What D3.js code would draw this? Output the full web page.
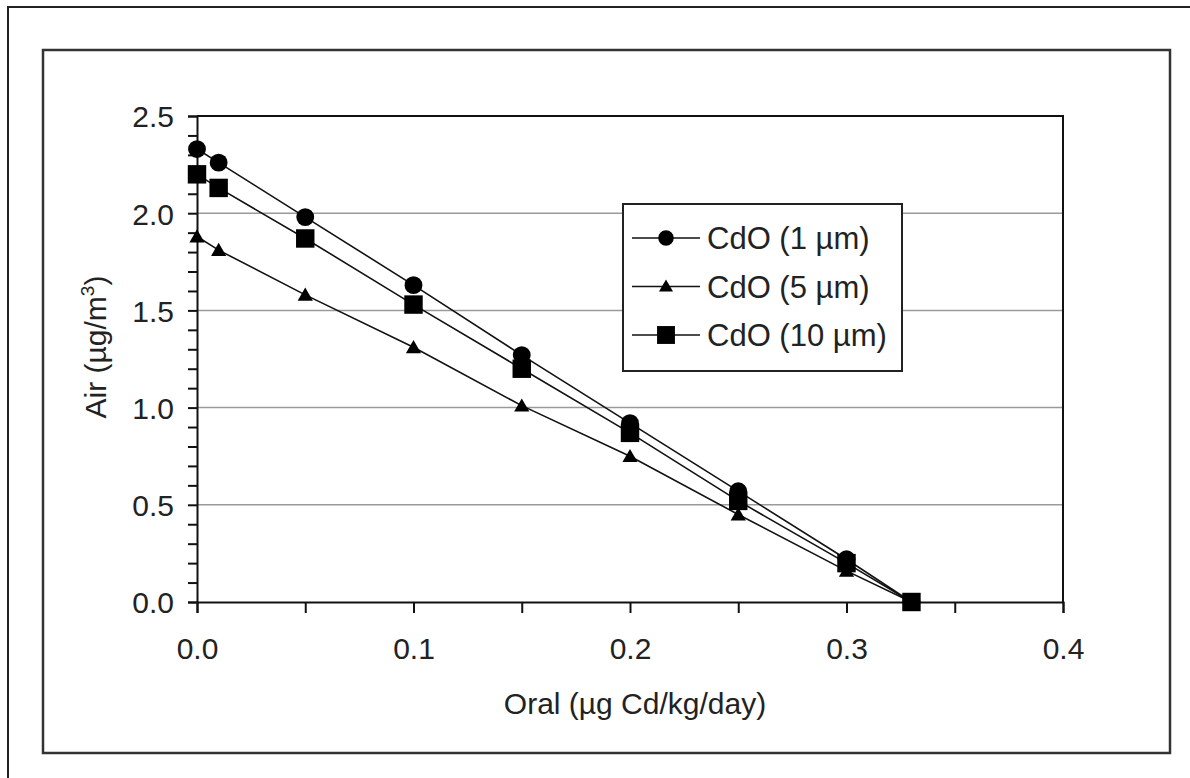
<!DOCTYPE html>
<html>
<head>
<meta charset="utf-8">
<script src="https://cdn.jsdelivr.net/npm/d3@7"></script>
<style>
  body { margin: 0; background: #fff; }
  text { font-family: Arial, "Liberation Sans", sans-serif; fill: #222; }
</style>
</head>
<body>
<div id="chart"></div>
<script>
// data
const oral = [0, 0.01, 0.05, 0.1, 0.15, 0.2, 0.25, 0.3, 0.33];
const cdo1 = [2.33, 2.26, 1.98, 1.63, 1.27, 0.92, 0.57, 0.22, 0];
const cdo5 = [1.88, 1.81, 1.58, 1.31, 1.01, 0.75, 0.45, 0.16, 0];
const cdo10 = [2.20, 2.13, 1.87, 1.53, 1.20, 0.87, 0.52, 0.20, 0];
const seriesNames = ["CdO (1 µm)", "CdO (5 µm)", "CdO (10 µm)"];
const seriesShapes = ["circle", "triangle", "square"];
const xTicks = [0, 0.1, 0.2, 0.3, 0.4];
const yTicks = [0, 0.5, 1.0, 1.5, 2.0, 2.5];

const W = 1190, H = 778;
const P = { left: 197, right: 1063, top: 116, bottom: 602 };
const FONT = "Arial, 'Liberation Sans', sans-serif";

const svg = d3.select("#chart").append("svg")
  .attr("width", W).attr("height", H)
  .attr("viewBox", `0 0 ${W} ${H}`);

// outer frame (cropped at right/bottom) and inner chart box
svg.append("path").attr("d", `M8,${H} L8,7 L${W},7`)
  .attr("fill", "none").attr("stroke", "#222").attr("stroke-width", 2);
svg.append("rect").attr("x", 43).attr("y", 50).attr("width", 1127).attr("height", 703)
  .attr("fill", "none").attr("stroke", "#333").attr("stroke-width", 2.5);

const x = d3.scaleLinear().domain([0, 0.4]).range([P.left, P.right]);
const y = d3.scaleLinear().domain([0, 2.5]).range([P.bottom, P.top]);

// gridlines
svg.append("g")
  .selectAll("line").data(yTicks.filter(d => d > 0 && d < 2.5)).join("line")
  .attr("x1", P.left).attr("x2", P.right)
  .attr("y1", d => y(d)).attr("y2", d => y(d))
  .attr("stroke", "#9a9a9a").attr("stroke-width", 1.5);

// plot border top / right
svg.append("path")
  .attr("d", `M${P.left},${P.top} L${P.right},${P.top} L${P.right},${P.bottom}`)
  .attr("fill", "none").attr("stroke", "#111").attr("stroke-width", 2);

// x axis: major + minor ticks
svg.append("g").attr("transform", `translate(0,${P.bottom})`)
  .call(d3.axisBottom(x).ticks(8).tickSize(11).tickFormat(""))
  .call(g => g.select(".domain").attr("stroke", "#111").attr("stroke-width", 2))
  .call(g => g.selectAll(".tick line").attr("stroke", "#111").attr("stroke-width", 2));
svg.append("g").attr("transform", `translate(0,${P.bottom})`)
  .call(d3.axisBottom(x).tickValues(xTicks).tickSize(0).tickFormat(d3.format(".1f")))
  .call(g => g.select(".domain").remove())
  .call(g => g.selectAll("text").attr("font-size", 30).attr("fill", "#222")
    .attr("font-family", FONT).attr("dy", "0").attr("y", 57));

// y axis: minor ticks every 0.1
svg.append("g").attr("transform", `translate(${P.left},0)`)
  .call(d3.axisLeft(y).ticks(25).tickSize(9).tickFormat(""))
  .call(g => g.select(".domain").attr("stroke", "#111").attr("stroke-width", 2))
  .call(g => g.selectAll(".tick line").attr("stroke", "#111").attr("stroke-width", 2));
svg.append("g").attr("transform", `translate(${P.left},0)`)
  .call(d3.axisLeft(y).tickValues(yTicks).tickSize(0).tickFormat(d3.format(".1f")))
  .call(g => g.select(".domain").remove())
  .call(g => g.selectAll("text").attr("font-size", 30).attr("fill", "#222")
    .attr("font-family", FONT).attr("x", -23).attr("dy", "0.36em"));

// axis titles
svg.append("text").attr("x", 635).attr("y", 714)
  .attr("text-anchor", "middle").attr("font-size", 30).text("Oral (µg Cd/kg/day)");
const yt = svg.append("text")
  .attr("transform", `translate(106,347) rotate(-90)`)
  .attr("text-anchor", "middle").attr("font-size", 30);
yt.append("tspan").text("Air (µg/m");
yt.append("tspan").attr("font-size", 19).attr("dy", -12).text("3");
yt.append("tspan").attr("dy", 12).text(")");

// markers
const sym = {
  circle: d3.symbol().type(d3.symbolCircle).size(250),
  triangle: d3.symbol().type(d3.symbolTriangle).size(100),
  square: d3.symbol().type(d3.symbolSquare).size(340)
};
const legSym = {
  circle: d3.symbol().type(d3.symbolCircle).size(190),
  triangle: d3.symbol().type(d3.symbolTriangle).size(85),
  square: d3.symbol().type(d3.symbolSquare).size(320)
};

const series = [cdo1, cdo5, cdo10].map((vals, i) => ({
  name: seriesNames[i], shape: seriesShapes[i],
  pts: oral.map((o, j) => ({ x: o, y: vals[j] }))
}));

const line = d3.line().x(d => x(d.x)).y(d => y(d.y));

// lines first, then markers (series order as in the original)
series.forEach(s => {
  svg.append("path").datum(s.pts)
    .attr("fill", "none").attr("stroke", "#111").attr("stroke-width", 1.6)
    .attr("d", line);
});
series.forEach(s => {
  svg.append("g").selectAll("path").data(s.pts).join("path")
    .attr("transform", d => `translate(${x(d.x)},${y(d.y) + (s.shape === "triangle" ? 1.5 : 0)})`)
    .attr("d", sym[s.shape]).attr("fill", "#000");
});

// legend
const lg = svg.append("g").attr("transform", "translate(623,204)");
lg.append("rect").attr("width", 279).attr("height", 167)
  .attr("fill", "#fff").attr("stroke", "#222").attr("stroke-width", 2);
series.forEach((s, i) => {
  const cy = 34 + i * 48.5;
  lg.append("line").attr("x1", 9).attr("x2", 77).attr("y1", cy).attr("y2", cy)
    .attr("stroke", "#111").attr("stroke-width", 1.6);
  lg.append("path").attr("transform", `translate(43,${cy + (s.shape === "triangle" ? 1 : 0)})`)
    .attr("d", legSym[s.shape]).attr("fill", "#000");
  lg.append("text").attr("x", 84).attr("y", cy).attr("dy", "0.36em")
    .attr("font-size", 31).text(s.name);
});
</script>
</body>
</html>
